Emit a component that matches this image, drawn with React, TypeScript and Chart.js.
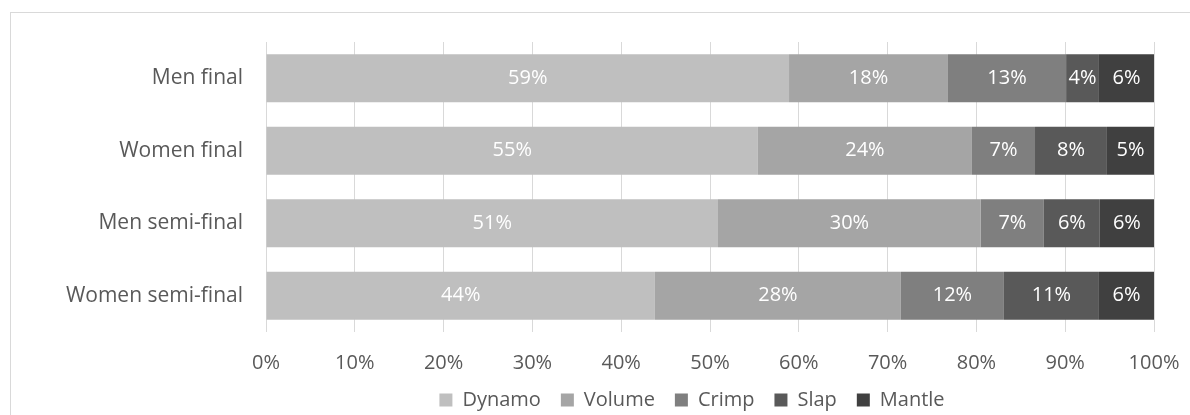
import React, { useEffect, useRef } from "react";
import { Chart, registerables } from "chart.js";

Chart.register(...registerables);

const categories = ["Men final", "Women final", "Men semi-final", "Women semi-final"];
const seriesNames = ["Dynamo", "Volume", "Crimp", "Slap", "Mantle"];
const dynamo = [58.9, 55.4, 50.9, 43.8];
const volume = [17.9, 24.1, 29.6, 27.7];
const crimp = [13.3, 7.1, 7.1, 11.6];
const slap = [3.7, 8.1, 6.3, 10.7];
const mantle = [6.2, 5.3, 6.1, 6.2];
const xTicks = [0, 10, 20, 30, 40, 50, 60, 70, 80, 90, 100];
const colors = ["#bfbfbf", "#a5a5a5", "#7f7f7f", "#595959", "#404040"];

const FONT = "'Open Sans', 'DejaVu Sans', sans-serif";

const dataLabelPlugin = {
  id: "segLabels",
  afterDatasetsDraw(chart: any) {
    const ctx = chart.ctx;
    ctx.save();
    ctx.font = `20px ${FONT}`;
    ctx.fillStyle = "#ffffff";
    ctx.textAlign = "center";
    ctx.textBaseline = "middle";
    chart.data.datasets.forEach((ds: any, di: number) => {
      const meta = chart.getDatasetMeta(di);
      meta.data.forEach((bar: any, i: number) => {
        const v = ds.data[i];
        const cx = (bar.x + bar.base) / 2;
        ctx.fillText(Math.round(v) + "%", cx, bar.y);
      });
    });
    ctx.restore();
  },
};

// Centre the legend under the whole chart frame rather than the full canvas width
const legendShift = {
  id: "legendShift",
  afterLayout(chart: any) {
    if (chart.legend) {
      chart.legend.left = 230;
    }
  },
};

export default function App() {
  const ref = useRef<HTMLCanvasElement | null>(null);
  useEffect(() => {
    if (!ref.current) return;
    const series = [dynamo, volume, crimp, slap, mantle];
    const chart = new Chart(ref.current, {
      type: "bar",
      data: {
        labels: categories,
        datasets: series.map((d, i) => ({
          label: seriesNames[i],
          data: d,
          backgroundColor: colors[i],
          borderWidth: 0,
          barPercentage: 0.662,
          categoryPercentage: 1,
        })),
      },
      options: {
        indexAxis: "y",
        animation: false,
        responsive: false,
        devicePixelRatio: 1,
        layout: { padding: { left: 0, right: 36, top: 42, bottom: 10 } },
        scales: {
          x: {
            stacked: true,
            min: 0,
            max: 100,
            afterBuildTicks: (s: any) => {
              s.ticks = xTicks.map((v) => ({ value: v }));
            },
            afterFit: (s: any) => {
              s.height = 38;
            },
            ticks: {
              callback: (v: any) => v + "%",
              color: "#595959",
              font: { family: FONT, size: 20 },
              padding: 0,
              maxRotation: 0,
            },
            grid: {
              color: "#d9d9d9",
              lineWidth: 1,
              drawTicks: true,
              tickLength: 19,
              tickColor: "rgba(0,0,0,0)",
            },
            border: { display: false },
          },
          y: {
            stacked: true,
            afterFit: (s: any) => {
              s.width = 266;
            },
            ticks: {
              color: "#595959",
              font: { family: FONT, size: 21 },
              padding: 23,
            },
            grid: { display: false, drawTicks: false },
            border: { display: false },
          },
        },
        plugins: {
          legend: {
            position: "bottom",
            labels: {
              boxWidth: 13,
              boxHeight: 13,
              padding: 20,
              color: "#595959",
              font: { family: FONT, size: 20 },
            },
          },
          tooltip: { enabled: false },
        },
      },
      plugins: [dataLabelPlugin, legendShift],
    } as any);
    return () => chart.destroy();
  }, []);
  return (
    <div>
      <div
        style={{
          position: "fixed",
          left: 10,
          top: 12,
          width: 1200,
          height: 420,
          border: "1px solid #d9d9d9",
          boxSizing: "border-box",
        }}
      />
      <canvas
        ref={ref}
        width={1190}
        height={430}
        style={{ position: "fixed", left: 0, top: 0, width: 1190, height: 430 }}
      />
    </div>
  );
}
